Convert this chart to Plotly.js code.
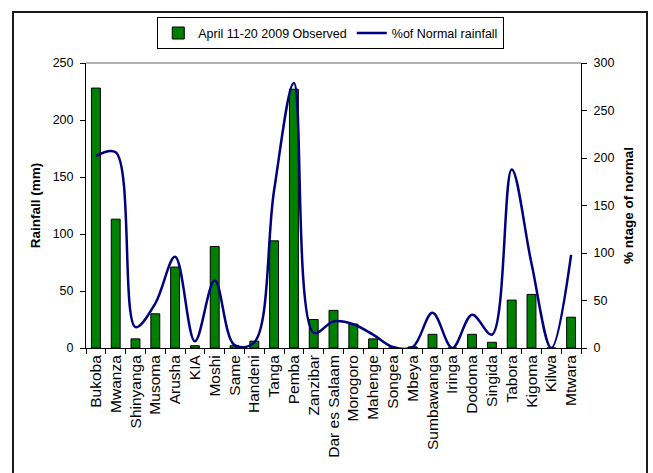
<!DOCTYPE html>
<html>
<head>
<meta charset="utf-8">
<script src="https://cdn.plot.ly/plotly-3.0.1.min.js"></script>
<style>
  html, body { margin: 0; padding: 0; background: #fff; }
  #wrap { position: relative; width: 653px; height: 473px; overflow: hidden; }
  #frame { position: absolute; left: 12px; top: 11px; width: 636px; height: 500px; border: 2px solid #1a1a1a; box-sizing: border-box; pointer-events: none; }
  #chart { position: absolute; left: 0; top: 0; width: 653px; height: 473px; }
</style>
</head>
<body>
<div id="wrap">
  <div id="frame"></div>
  <div id="chart"></div>
</div>
<script>
const stations = ["Bukoba", "Mwanza", "Shinyanga", "Musoma", "Arusha", "KIA", "Moshi", "Same", "Handeni", "Tanga", "Pemba", "Zanzibar", "Dar es Salaam", "Morogoro", "Mahenge", "Songea", "Mbeya", "Sumbawanga", "Iringa", "Dodoma", "Singida", "Tabora", "Kigoma", "Kilwa", "Mtwara"];
const observedRain = [228, 113, 8, 30, 71, 2, 89, 2, 6, 94, 227, 25, 33, 21, 8, 0, 1, 12, 0, 12, 5, 42, 47, 0, 27];
const pctNormal = [202, 206, 22, 47, 96, 7, 71, 3, 6, 166, 279, 16, 28, 25, 14, 1, 1, 37, 0, 35, 14, 188, 89, 0, 98];
const leftTicks = [0, 50, 100, 150, 200, 250];
const rightTicks = [0, 50, 100, 150, 200, 250, 300];

const FONT = "Liberation Sans, Arial, sans-serif";
const boundaries = stations.map((s, i) => i - 0.5).concat([stations.length - 0.5]);

const traces = [
  {
    type: "bar",
    name: "April 11-20 2009 Observed",
    x: stations,
    y: observedRain,
    marker: { color: "#008000", line: { color: "#000000", width: 1 } },
    yaxis: "y"
  },
  {
    type: "scatter",
    mode: "lines",
    name: "%of Normal rainfall",
    x: stations,
    y: pctNormal,
    yaxis: "y2",
    line: { color: "#000080", width: 2.5, shape: "spline", smoothing: 1 }
  }
];

const layout = {
  width: 653,
  height: 473,
  margin: { l: 86, r: 72, t: 63, b: 125 },
  paper_bgcolor: "rgba(0,0,0,0)",
  plot_bgcolor: "rgba(0,0,0,0)",
  font: { family: FONT, color: "#000", size: 12 },
  bargap: 0.55,
  showlegend: true,
  legend: {
    orientation: "h",
    x: 0.144, xanchor: "left",
    y: 1.16, yanchor: "top",
    bordercolor: "#000", borderwidth: 1,
    bgcolor: "#fff",
    font: { family: FONT, size: 12.5, color: "#000" },
    traceorder: "normal",
    itemwidth: 30
  },
  xaxis: {
    type: "category",
    categoryorder: "array",
    categoryarray: stations,
    range: [-0.5, stations.length - 0.5],
    showline: true, linecolor: "#000", linewidth: 1,
    ticks: "outside", ticklen: 5, tickcolor: "#000", tickson: "boundaries",
    tickangle: -90,
    tickfont: { family: FONT, size: 15.5, color: "#000" },
    showgrid: false, zeroline: false, fixedrange: true
  },
  xaxis2: {
    overlaying: "x", anchor: "y", side: "bottom",
    range: [-0.5, stations.length - 0.5],
    tickmode: "array", tickvals: boundaries,
    ticks: "inside", ticklen: 4, tickcolor: "#000",
    showticklabels: false, showline: false, showgrid: false, zeroline: false
  },
  yaxis: {
    range: [0, 250],
    tickmode: "array", tickvals: leftTicks,
    showline: true, linecolor: "#000", linewidth: 1,
    ticks: "outside", ticklen: 5, tickcolor: "#000",
    ticklabelstandoff: 4,
    tickfont: { family: FONT, size: 12.5, color: "#000" },
    showgrid: false, zeroline: false, fixedrange: true,
    title: { text: "<b>Rainfall (mm)</b>", font: { family: FONT, size: 13.5, color: "#000" }, standoff: 8 }
  },
  yaxis2: {
    overlaying: "y", side: "right", anchor: "x",
    range: [0, 300],
    tickmode: "array", tickvals: rightTicks,
    showline: true, linecolor: "#000", linewidth: 1,
    ticks: "outside", ticklen: 5, tickcolor: "#000",
    ticklabelstandoff: 4,
    tickfont: { family: FONT, size: 12.5, color: "#000" },
    showgrid: false, zeroline: false, fixedrange: true,
    title: { text: "<b>% ntage of normal</b>", font: { family: FONT, size: 13.5, color: "#000" }, standoff: 10 }
  },
  yaxis3: {
    overlaying: "y", side: "left", anchor: "x",
    range: [0, 250], tickmode: "array", tickvals: leftTicks,
    ticks: "inside", ticklen: 4, tickcolor: "#000",
    showticklabels: false, showline: false, showgrid: false, zeroline: false
  },
  yaxis4: {
    overlaying: "y", side: "right", anchor: "x",
    range: [0, 300], tickmode: "array", tickvals: rightTicks,
    ticks: "inside", ticklen: 4, tickcolor: "#000",
    showticklabels: false, showline: false, showgrid: false, zeroline: false
  },
  shapes: [
    { type: "line", xref: "paper", yref: "paper", x0: 0, x1: 1, y0: 1, y1: 1, line: { color: "#999", width: 1.5 } }
  ]
};

Plotly.newPlot("chart", traces, layout, { displayModeBar: false, staticPlot: true });
</script>
</body>
</html>
